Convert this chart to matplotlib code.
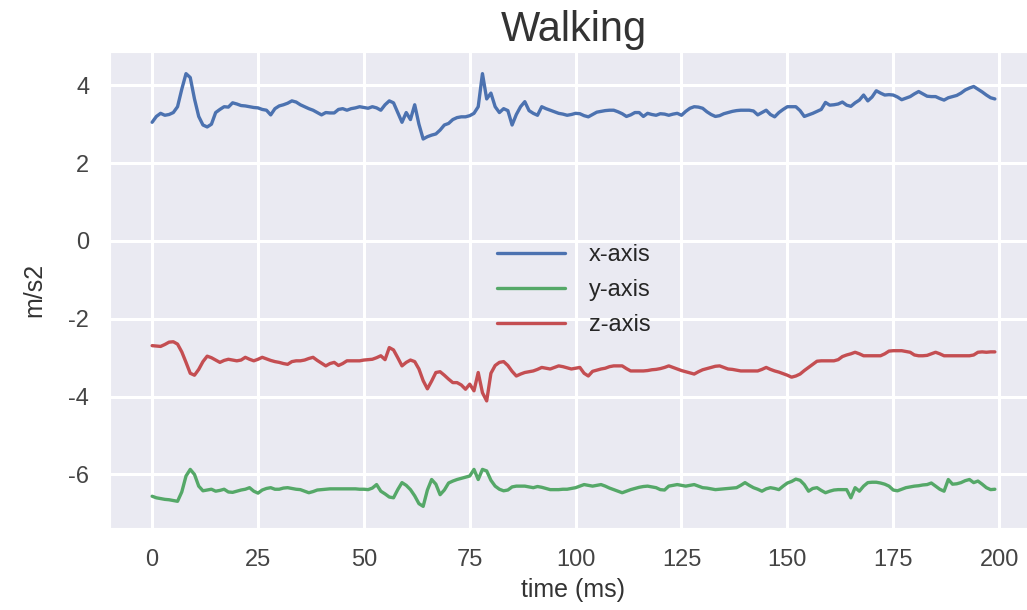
import matplotlib
matplotlib.use("Agg")
import matplotlib.pyplot as plt
import seaborn as sns
import numpy as np

# accelerometer readings, one sample per ms
x_axis = [3.05, 3.2, 3.28, 3.23, 3.25, 3.3, 3.45, 3.9, 4.3, 4.2,
          3.65, 3.2, 2.98, 2.93, 3.0, 3.3, 3.38, 3.45, 3.44, 3.55,
          3.52, 3.48, 3.47, 3.45, 3.43, 3.42, 3.38, 3.36, 3.24, 3.4,
          3.47, 3.5, 3.54, 3.6, 3.57, 3.5, 3.45, 3.4, 3.36, 3.3,
          3.24, 3.3, 3.29, 3.29, 3.38, 3.4, 3.36, 3.4, 3.42, 3.45,
          3.43, 3.41, 3.45, 3.42, 3.36, 3.5, 3.6, 3.55, 3.3, 3.05,
          3.3, 3.12, 3.5, 3.0, 2.62, 2.68, 2.72, 2.75, 2.85, 2.98,
          3.02, 3.12, 3.17, 3.19, 3.19, 3.22, 3.28, 3.45, 4.3, 3.65,
          3.8, 3.45, 3.3, 3.4, 3.35, 2.98, 3.25, 3.45, 3.58, 3.35,
          3.28, 3.23, 3.45, 3.4, 3.36, 3.32, 3.28, 3.26, 3.23, 3.25,
          3.28, 3.27, 3.22, 3.19, 3.25, 3.31, 3.33, 3.35, 3.36, 3.36,
          3.32, 3.27, 3.2, 3.24, 3.3, 3.3, 3.2, 3.28, 3.25, 3.23,
          3.27, 3.26, 3.23, 3.26, 3.28, 3.23, 3.33, 3.41, 3.45, 3.44,
          3.41, 3.32, 3.25, 3.2, 3.22, 3.27, 3.3, 3.33, 3.35, 3.36,
          3.36, 3.36, 3.34, 3.24, 3.3, 3.36, 3.25, 3.19, 3.3, 3.38,
          3.45, 3.45, 3.45, 3.35, 3.2, 3.24, 3.28, 3.33, 3.38, 3.56,
          3.49, 3.5, 3.52, 3.57, 3.49, 3.46, 3.55, 3.62, 3.75, 3.6,
          3.7, 3.86, 3.8, 3.75, 3.76, 3.75, 3.7, 3.63, 3.67, 3.71,
          3.78, 3.84, 3.78, 3.72, 3.71, 3.71, 3.66, 3.62, 3.68, 3.71,
          3.74, 3.8, 3.88, 3.93, 3.97, 3.9, 3.83, 3.75, 3.68, 3.65]

y_axis = [-6.56, -6.6, -6.62, -6.64, -6.65, -6.67, -6.69, -6.45, -6.04, -5.87,
          -6.0, -6.3, -6.42, -6.4, -6.38, -6.43, -6.41, -6.38, -6.45, -6.46,
          -6.43, -6.4, -6.38, -6.34, -6.43, -6.48, -6.4, -6.36, -6.34, -6.38,
          -6.38, -6.35, -6.34, -6.36, -6.38, -6.39, -6.43, -6.47, -6.44, -6.4,
          -6.39, -6.38, -6.37, -6.37, -6.37, -6.37, -6.37, -6.37, -6.37, -6.38,
          -6.38, -6.39, -6.35, -6.26, -6.43, -6.5, -6.58, -6.6, -6.39, -6.21,
          -6.28, -6.39, -6.55, -6.75, -6.82, -6.4, -6.13, -6.25, -6.52, -6.4,
          -6.22, -6.17, -6.13, -6.1, -6.07, -6.04, -5.87, -6.13, -5.87, -5.91,
          -6.15, -6.3, -6.38, -6.42, -6.4, -6.32, -6.3, -6.3, -6.3, -6.32,
          -6.34, -6.31, -6.33, -6.36, -6.39, -6.39, -6.39, -6.38, -6.38, -6.36,
          -6.34, -6.3, -6.26, -6.28, -6.3, -6.28, -6.26, -6.3, -6.35, -6.39,
          -6.43, -6.47, -6.43, -6.39, -6.36, -6.33, -6.31, -6.3, -6.32, -6.34,
          -6.39, -6.4, -6.3, -6.28, -6.26, -6.28, -6.3, -6.28, -6.26, -6.3,
          -6.34, -6.35, -6.37, -6.39, -6.38, -6.37, -6.36, -6.35, -6.34, -6.28,
          -6.21, -6.28, -6.34, -6.38, -6.43, -6.37, -6.34, -6.36, -6.39, -6.3,
          -6.22, -6.18, -6.12, -6.15, -6.26, -6.43, -6.36, -6.34, -6.41, -6.47,
          -6.43, -6.4, -6.39, -6.39, -6.39, -6.6, -6.34, -6.43, -6.3, -6.21,
          -6.2, -6.2, -6.22, -6.25, -6.3, -6.4, -6.42, -6.38, -6.34, -6.32,
          -6.3, -6.29, -6.27, -6.26, -6.22, -6.3, -6.38, -6.43, -6.13, -6.25,
          -6.24, -6.21, -6.16, -6.13, -6.21, -6.17, -6.25, -6.34, -6.39, -6.38]

z_axis = [-2.69, -2.7, -2.71, -2.66, -2.6, -2.59, -2.65, -2.85, -3.12, -3.4,
          -3.45, -3.3, -3.1, -2.96, -3.0, -3.06, -3.12, -3.07, -3.04, -3.06,
          -3.08, -3.06, -2.99, -3.04, -3.08, -3.04, -2.99, -3.03, -3.07, -3.1,
          -3.12, -3.15, -3.17, -3.1, -3.08, -3.08, -3.06, -3.02, -2.99, -3.07,
          -3.14, -3.21, -3.15, -3.12, -3.2, -3.15, -3.08, -3.08, -3.08, -3.08,
          -3.06, -3.05, -3.04, -3.0, -2.95, -3.05, -2.74, -2.8, -3.0, -3.21,
          -3.12, -3.06, -3.1, -3.29, -3.59, -3.8, -3.6, -3.38, -3.36, -3.45,
          -3.55, -3.64, -3.64, -3.7, -3.81, -3.68, -3.85, -3.38, -3.9, -4.11,
          -3.4, -3.2, -3.12, -3.1, -3.2, -3.35, -3.47, -3.42, -3.38, -3.36,
          -3.34, -3.3, -3.25, -3.27, -3.29, -3.25, -3.21, -3.23, -3.26, -3.29,
          -3.27, -3.25, -3.4, -3.47, -3.35, -3.32, -3.29, -3.27, -3.23, -3.21,
          -3.21, -3.21, -3.28, -3.34, -3.34, -3.34, -3.34, -3.33, -3.31, -3.3,
          -3.28, -3.25, -3.21, -3.25, -3.29, -3.33, -3.36, -3.39, -3.42, -3.36,
          -3.31, -3.28, -3.25, -3.22, -3.21, -3.25, -3.29, -3.3, -3.32, -3.34,
          -3.34, -3.34, -3.34, -3.34, -3.3, -3.25, -3.3, -3.34, -3.37, -3.41,
          -3.45, -3.5, -3.47, -3.42, -3.33, -3.25, -3.17, -3.09, -3.08, -3.08,
          -3.08, -3.08, -3.05, -2.97, -2.93, -2.9, -2.86, -2.9, -2.95, -2.95,
          -2.95, -2.95, -2.95, -2.9, -2.83, -2.82, -2.82, -2.82, -2.84, -2.86,
          -2.93, -2.95, -2.95, -2.94, -2.9, -2.86, -2.9, -2.95, -2.95, -2.95,
          -2.95, -2.95, -2.95, -2.95, -2.93, -2.86, -2.85, -2.86, -2.85, -2.85]

time = np.arange(len(x_axis))

sns.set_style("darkgrid")
plt.rcParams["font.family"] = ["Liberation Sans", "DejaVu Sans"]
plt.rcParams["axes.unicode_minus"] = False

fig = plt.figure(figsize=(10.27, 6.10), dpi=100)
# original screenshot is cut off at the right edge
ax = fig.add_axes([110 / 1027, 82 / 610, 927 / 1027, 476 / 610])

ax.plot(time, x_axis, color="#4C72B0", lw=2.4, label="x-axis")
ax.plot(time, y_axis, color="#55A868", lw=2.4, label="y-axis")
ax.plot(time, z_axis, color="#C44E52", lw=2.4, label="z-axis")

ax.set_xticks([0, 25, 50, 75, 100, 125, 150, 175, 200])
ax.set_yticks([4, 2, 0, -2, -4, -6])
ax.tick_params(labelsize=17, labelcolor="#444444", pad=15, length=0)
ax.grid(color="white", linewidth=2.2)

ax.set_title("Walking", fontsize=30, color="#333333", pad=8)
ax.set_xlabel("time (ms)", fontsize=18, color="#333333", labelpad=5)
ax.set_ylabel("m/s2", fontsize=18, color="#333333", labelpad=16)

ax.legend(loc="center", frameon=False, fontsize=17, handlelength=2.9,
          handletextpad=1.0, labelspacing=0.55)

fig.savefig("out.png", dpi=100)
